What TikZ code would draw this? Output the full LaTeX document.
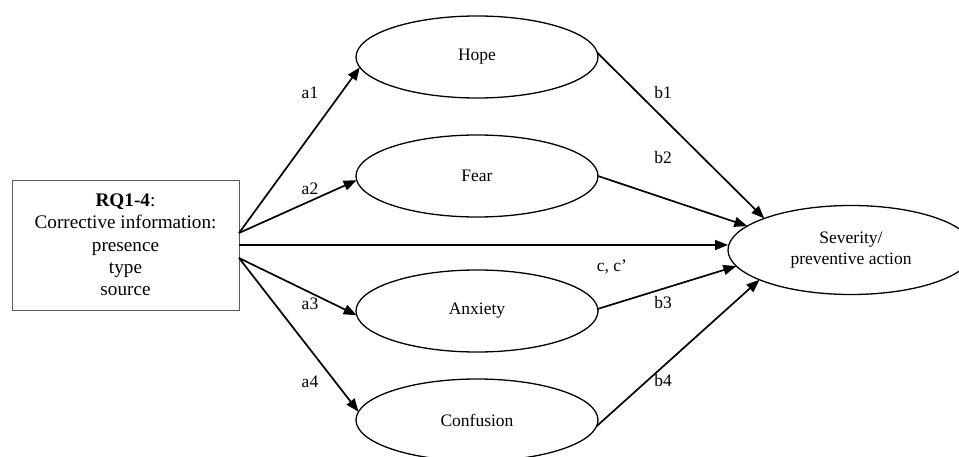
\documentclass[tikz,border=0pt]{standalone}
\usepackage{fontspec}
\setmainfont{Liberation Serif}
\usetikzlibrary{shapes.geometric,arrows.meta}
\definecolor{boxgray}{HTML}{5A5A5A}
\begin{document}
\begin{tikzpicture}[x=1pt,y=-1pt,
  ellip/.style={ellipse,draw,line width=1.3pt,inner sep=0pt,outer sep=0pt,
    minimum width=242pt,minimum height=82pt,align=center,
    font=\fontsize{17.5}{21}\selectfont},
  srcbox/.style={draw=boxgray,line width=0.9pt,inner sep=0pt,outer sep=0pt,
    minimum width=227pt,minimum height=130pt,align=center,
    font=\fontsize{19.2}{22.3}\selectfont},
  lab/.style={inner sep=0pt,font=\fontsize{17.5}{21}\selectfont},
  arr/.style={line width=1.7pt,-{Triangle[length=13pt,width=10pt]}}]
\useasboundingbox (0,0) rectangle (959,457);
\node[srcbox] (box) at (125.5,245) {\textbf{RQ1-4}:\\Corrective information:\\presence\\type\\source};
\node[ellip] (hope) at (477,57) {Hope};
\node[ellip] (fear) at (477,176) {Fear};
\node[ellip] (anx) at (477,311) {Anxiety};
\node[ellip] (conf) at (477,420) {Confusion};
\node[ellip,minimum width=246pt,minimum height=89pt] (sev) at (851,250) {Severity/\\preventive action};
\coordinate (s1) at ([yshift=12pt]box.east);
\coordinate (s2) at ([yshift=-13pt]box.east);
\draw[arr] (s1) -- (hope.185);
\draw[arr] (s1) -- (fear.182);
\draw[arr] (box.east) -- (box.east -| sev.west);
\draw[arr] (s2) -- (anx.182.3);
\draw[arr] (s2) -- (conf.176.7);
\draw[arr] (hope.2.3) -- (sev.160.7);
\draw[arr] (fear.east) -- (sev.167.8);
\draw[arr] (anx.1) -- (sev.188.7);
\draw[arr] (conf.357.6) -- (sev.198.4);
\node[lab] (la1) at (310,93) {a1};
\node[lab] (la2) at (310,189) {a2};
\node[lab] (la3) at (310,304) {a3};
\node[lab] (la4) at (310,382) {a4};
\node[lab] (lb1) at (663,93) {b1};
\node[lab] (lb2) at (663,158) {b2};
\node[lab] (lc) at (612,267) {c, c’};
\node[lab] (lb3) at (663,303) {b3};
\node[lab] (lb4) at (663,381) {b4};
\end{tikzpicture}
\end{document}
